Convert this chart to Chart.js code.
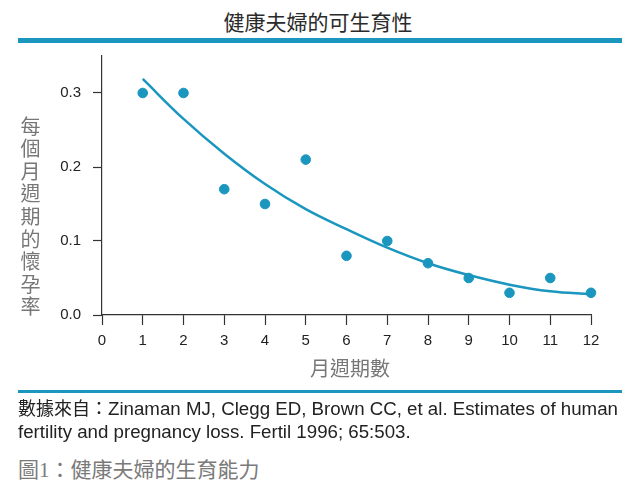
<!DOCTYPE html>
<html>
<head>
<meta charset="utf-8">
<script src="https://cdn.jsdelivr.net/npm/chart.js@4"></script>
<style>
  html, body { margin: 0; padding: 0; background: #fff; }
  body { width: 636px; height: 496px; position: relative; overflow: hidden;
         font-family: "Noto Sans CJK TC", "Liberation Sans", sans-serif; }
  .title { position: absolute; left: 0; width: 636px; top: 6px; text-align: center;
           font-size: 21px; color: #2a2a2a; line-height: 30px; }
  .bar-top { position: absolute; left: 18px; width: 604px; top: 38px; height: 5px; background: #1a96bf; }
  .bar-bottom { position: absolute; left: 18px; width: 604px; top: 390px; height: 3px; background: #1a96bf; }
  #box { position: absolute; left: 0; top: 35px; width: 636px; height: 340px; }
  .ytitle { position: absolute; left: 20px; top: 116px; font-size: 20px; color: #777;
            writing-mode: vertical-rl; text-orientation: upright; letter-spacing: 2.6px; line-height: 20px; }
  .xtitle { position: absolute; left: 0; width: 700px; top: 354px; text-align: center;
            font-size: 20px; color: #777; line-height: 28px; }
  .source { position: absolute; left: 18px; top: 396px; width: 630px; font-size: 18.7px; color: #222;
            line-height: 23px; font-family: "Liberation Sans Narrow", "Arial Narrow", "Liberation Sans", sans-serif;
            white-space: nowrap; }
  .source .cjk { font-family: "Noto Sans CJK TC", sans-serif; font-size: 18px; }
  .caption { position: absolute; left: 18px; top: 453px; font-size: 21px; color: #7a7a7a; line-height: 30px; }
  .caption .num { font-family: "Liberation Serif", serif; }
</style>
</head>
<body>
<div class="title">健康夫婦的可生育性</div>
<div class="bar-top"></div>
<div id="box"><canvas id="fertilityChart"></canvas></div>
<div class="ytitle">每個月週期的懷孕率</div>
<div class="xtitle">月週期數</div>
<div class="bar-bottom"></div>
<div class="source"><span class="cjk">數據來自：</span>Zinaman MJ, Clegg ED, Brown CC, et al. Estimates of human<br>fertility and pregnancy loss. Fertil 1996; 65:503.</div>
<div class="caption">圖<span class="num">1</span>：健康夫婦的生育能力</div>

<script>
// 月週期數
const cycles = [1, 2, 3, 4, 5, 6, 7, 8, 9, 10, 11, 12];
// 觀察到的懷孕率 (點)
const observedRate = [0.30, 0.30, 0.17, 0.15, 0.21, 0.08, 0.10, 0.07, 0.05, 0.03, 0.05, 0.03];
// 擬合曲線
const fittedRate = [0.319, 0.265, 0.218, 0.177, 0.143, 0.116, 0.091, 0.070, 0.054, 0.041, 0.032, 0.028];
const xTicks = [0, 1, 2, 3, 4, 5, 6, 7, 8, 9, 10, 11, 12];
const yTicks = [0, 0.1, 0.2, 0.3];

const teal = '#1a96bf';
const axisColor = '#333';

new Chart(document.getElementById('fertilityChart'), {
    type: 'scatter',
    data: {
        datasets: [{
            type: 'line',
            label: '擬合',
            data: cycles.map((c, i) => ({ x: c, y: fittedRate[i] })),
            borderColor: teal,
            borderWidth: 2.5,
            pointRadius: 0,
            tension: 0.4,
            fill: false
        }, {
            label: '懷孕率',
            data: cycles.map((c, i) => ({ x: c, y: observedRate[i] })),
            backgroundColor: teal,
            borderColor: teal,
            pointRadius: 4.8,
            clip: false
        }]
    },
    options: {
        responsive: true,
        maintainAspectRatio: false,
        animation: false,
        devicePixelRatio: 1,
        layout: { padding: { left: 0, right: 45, top: 6, bottom: 0 } },
        plugins: { legend: { display: false }, tooltip: { enabled: false } },
        scales: {
            x: {
                type: 'linear',
                min: 0,
                max: 12,
                afterBuildTicks: s => { s.ticks = xTicks.map(v => ({ value: v })); },
                afterFit: s => { s.height = 60; },
                ticks: { color: '#222', font: { family: 'Liberation Sans', size: 15 }, padding: 7 },
                grid: { drawOnChartArea: false, tickLength: 10, color: axisColor, tickWidth: 1.2 },
                border: { color: axisColor, width: 1.2 }
            },
            y: {
                min: 0,
                max: 0.35,
                afterBuildTicks: s => { s.ticks = yTicks.map(v => ({ value: v })); },
                afterFit: s => { s.width = 102; },
                ticks: {
                    color: '#222',
                    font: { family: 'Liberation Sans', size: 15 },
                    padding: 12,
                    callback: v => v.toFixed(1)
                },
                grid: { drawOnChartArea: false, tickLength: 9, color: axisColor, tickWidth: 1.2 },
                border: { color: axisColor, width: 1.2 }
            }
        }
    }
});
</script>
</body>
</html>
